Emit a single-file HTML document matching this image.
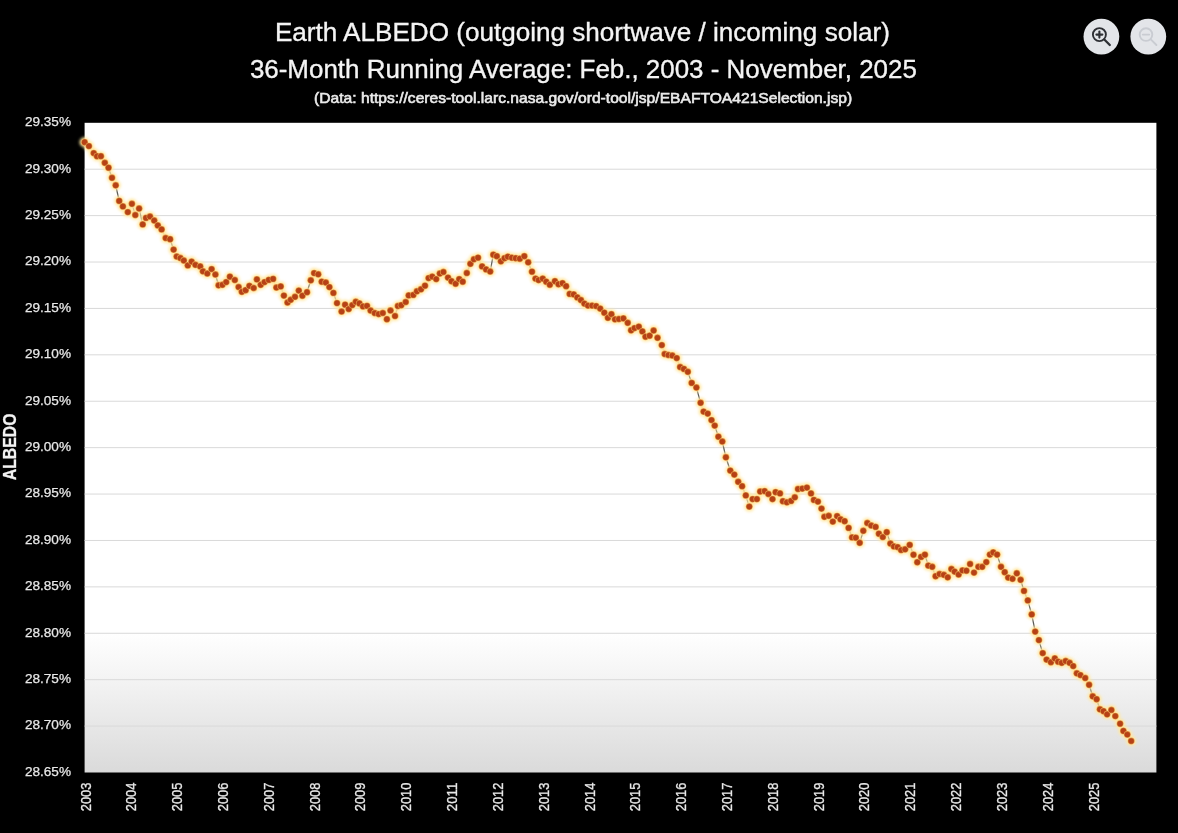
<!DOCTYPE html>
<html><head><meta charset="utf-8"><title>Earth ALBEDO</title>
<style>
html,body{margin:0;padding:0;background:#000;}
body{width:1178px;height:833px;overflow:hidden;}
svg{display:block;}
text{font-family:"Liberation Sans",Arial,sans-serif;}
</style></head><body>
<svg width="1178" height="833" viewBox="0 0 1178 833">
<defs>
<linearGradient id="bg" x1="0" y1="122.8" x2="0" y2="772.5" gradientUnits="userSpaceOnUse">
<stop offset="0" stop-color="#ffffff"/>
<stop offset="0.785" stop-color="#ffffff"/>
<stop offset="0.86" stop-color="#f3f3f3"/>
<stop offset="1" stop-color="#dadada"/>
</linearGradient>
<filter id="glow" x="-50%" y="-50%" width="200%" height="200%"><feGaussianBlur stdDeviation="1.4"/></filter>
<filter id="soft" x="-50%" y="-50%" width="200%" height="200%"><feGaussianBlur stdDeviation="0.5"/></filter>
</defs>
<rect x="0" y="0" width="1178" height="833" fill="#000"/>
<rect x="84.6" y="122.8" width="1071.8" height="649.7" fill="url(#bg)"/>

<line x1="84.6" y1="169.21" x2="1156.4" y2="169.21" stroke="#d9d9d9" stroke-width="1.0"/>
<line x1="84.6" y1="215.61" x2="1156.4" y2="215.61" stroke="#d9d9d9" stroke-width="1.0"/>
<line x1="84.6" y1="262.02" x2="1156.4" y2="262.02" stroke="#d9d9d9" stroke-width="1.0"/>
<line x1="84.6" y1="308.43" x2="1156.4" y2="308.43" stroke="#d9d9d9" stroke-width="1.0"/>
<line x1="84.6" y1="354.84" x2="1156.4" y2="354.84" stroke="#d9d9d9" stroke-width="1.0"/>
<line x1="84.6" y1="401.24" x2="1156.4" y2="401.24" stroke="#d9d9d9" stroke-width="1.0"/>
<line x1="84.6" y1="447.65" x2="1156.4" y2="447.65" stroke="#d9d9d9" stroke-width="1.0"/>
<line x1="84.6" y1="494.06" x2="1156.4" y2="494.06" stroke="#d9d9d9" stroke-width="1.0"/>
<line x1="84.6" y1="540.46" x2="1156.4" y2="540.46" stroke="#d9d9d9" stroke-width="1.0"/>
<line x1="84.6" y1="586.87" x2="1156.4" y2="586.87" stroke="#d9d9d9" stroke-width="1.0"/>
<line x1="84.6" y1="633.28" x2="1156.4" y2="633.28" stroke="#d9d9d9" stroke-width="1.0"/>
<line x1="84.6" y1="679.69" x2="1156.4" y2="679.69" stroke="#d9d9d9" stroke-width="1.0"/>
<line x1="84.6" y1="726.09" x2="1156.4" y2="726.09" stroke="#d9d9d9" stroke-width="1.0"/>
<text x="71" y="126.1" text-anchor="end" font-size="13.6" fill="#e8e8e8" stroke="#e8e8e8" stroke-width="0.25">29.35%</text>
<text x="71" y="172.5" text-anchor="end" font-size="13.6" fill="#e8e8e8" stroke="#e8e8e8" stroke-width="0.25">29.30%</text>
<text x="71" y="218.9" text-anchor="end" font-size="13.6" fill="#e8e8e8" stroke="#e8e8e8" stroke-width="0.25">29.25%</text>
<text x="71" y="265.3" text-anchor="end" font-size="13.6" fill="#e8e8e8" stroke="#e8e8e8" stroke-width="0.25">29.20%</text>
<text x="71" y="311.7" text-anchor="end" font-size="13.6" fill="#e8e8e8" stroke="#e8e8e8" stroke-width="0.25">29.15%</text>
<text x="71" y="358.1" text-anchor="end" font-size="13.6" fill="#e8e8e8" stroke="#e8e8e8" stroke-width="0.25">29.10%</text>
<text x="71" y="404.5" text-anchor="end" font-size="13.6" fill="#e8e8e8" stroke="#e8e8e8" stroke-width="0.25">29.05%</text>
<text x="71" y="451.0" text-anchor="end" font-size="13.6" fill="#e8e8e8" stroke="#e8e8e8" stroke-width="0.25">29.00%</text>
<text x="71" y="497.4" text-anchor="end" font-size="13.6" fill="#e8e8e8" stroke="#e8e8e8" stroke-width="0.25">28.95%</text>
<text x="71" y="543.8" text-anchor="end" font-size="13.6" fill="#e8e8e8" stroke="#e8e8e8" stroke-width="0.25">28.90%</text>
<text x="71" y="590.2" text-anchor="end" font-size="13.6" fill="#e8e8e8" stroke="#e8e8e8" stroke-width="0.25">28.85%</text>
<text x="71" y="636.6" text-anchor="end" font-size="13.6" fill="#e8e8e8" stroke="#e8e8e8" stroke-width="0.25">28.80%</text>
<text x="71" y="683.0" text-anchor="end" font-size="13.6" fill="#e8e8e8" stroke="#e8e8e8" stroke-width="0.25">28.75%</text>
<text x="71" y="729.4" text-anchor="end" font-size="13.6" fill="#e8e8e8" stroke="#e8e8e8" stroke-width="0.25">28.70%</text>
<text x="71" y="775.8" text-anchor="end" font-size="13.6" fill="#e8e8e8" stroke="#e8e8e8" stroke-width="0.25">28.65%</text>
<text transform="translate(90.5,811.2) rotate(-90)" font-size="14" fill="#e8e8e8" stroke="#e8e8e8" stroke-width="0.3" textLength="28.6" lengthAdjust="spacingAndGlyphs">2003</text>
<text transform="translate(136.3,811.2) rotate(-90)" font-size="14" fill="#e8e8e8" stroke="#e8e8e8" stroke-width="0.3" textLength="28.6" lengthAdjust="spacingAndGlyphs">2004</text>
<text transform="translate(182.1,811.2) rotate(-90)" font-size="14" fill="#e8e8e8" stroke="#e8e8e8" stroke-width="0.3" textLength="28.6" lengthAdjust="spacingAndGlyphs">2005</text>
<text transform="translate(228.0,811.2) rotate(-90)" font-size="14" fill="#e8e8e8" stroke="#e8e8e8" stroke-width="0.3" textLength="28.6" lengthAdjust="spacingAndGlyphs">2006</text>
<text transform="translate(273.8,811.2) rotate(-90)" font-size="14" fill="#e8e8e8" stroke="#e8e8e8" stroke-width="0.3" textLength="28.6" lengthAdjust="spacingAndGlyphs">2007</text>
<text transform="translate(319.6,811.2) rotate(-90)" font-size="14" fill="#e8e8e8" stroke="#e8e8e8" stroke-width="0.3" textLength="28.6" lengthAdjust="spacingAndGlyphs">2008</text>
<text transform="translate(365.4,811.2) rotate(-90)" font-size="14" fill="#e8e8e8" stroke="#e8e8e8" stroke-width="0.3" textLength="28.6" lengthAdjust="spacingAndGlyphs">2009</text>
<text transform="translate(411.2,811.2) rotate(-90)" font-size="14" fill="#e8e8e8" stroke="#e8e8e8" stroke-width="0.3" textLength="28.6" lengthAdjust="spacingAndGlyphs">2010</text>
<text transform="translate(457.1,811.2) rotate(-90)" font-size="14" fill="#e8e8e8" stroke="#e8e8e8" stroke-width="0.3" textLength="28.6" lengthAdjust="spacingAndGlyphs">2011</text>
<text transform="translate(502.9,811.2) rotate(-90)" font-size="14" fill="#e8e8e8" stroke="#e8e8e8" stroke-width="0.3" textLength="28.6" lengthAdjust="spacingAndGlyphs">2012</text>
<text transform="translate(548.7,811.2) rotate(-90)" font-size="14" fill="#e8e8e8" stroke="#e8e8e8" stroke-width="0.3" textLength="28.6" lengthAdjust="spacingAndGlyphs">2013</text>
<text transform="translate(594.5,811.2) rotate(-90)" font-size="14" fill="#e8e8e8" stroke="#e8e8e8" stroke-width="0.3" textLength="28.6" lengthAdjust="spacingAndGlyphs">2014</text>
<text transform="translate(640.3,811.2) rotate(-90)" font-size="14" fill="#e8e8e8" stroke="#e8e8e8" stroke-width="0.3" textLength="28.6" lengthAdjust="spacingAndGlyphs">2015</text>
<text transform="translate(686.2,811.2) rotate(-90)" font-size="14" fill="#e8e8e8" stroke="#e8e8e8" stroke-width="0.3" textLength="28.6" lengthAdjust="spacingAndGlyphs">2016</text>
<text transform="translate(732.0,811.2) rotate(-90)" font-size="14" fill="#e8e8e8" stroke="#e8e8e8" stroke-width="0.3" textLength="28.6" lengthAdjust="spacingAndGlyphs">2017</text>
<text transform="translate(777.8,811.2) rotate(-90)" font-size="14" fill="#e8e8e8" stroke="#e8e8e8" stroke-width="0.3" textLength="28.6" lengthAdjust="spacingAndGlyphs">2018</text>
<text transform="translate(823.6,811.2) rotate(-90)" font-size="14" fill="#e8e8e8" stroke="#e8e8e8" stroke-width="0.3" textLength="28.6" lengthAdjust="spacingAndGlyphs">2019</text>
<text transform="translate(869.4,811.2) rotate(-90)" font-size="14" fill="#e8e8e8" stroke="#e8e8e8" stroke-width="0.3" textLength="28.6" lengthAdjust="spacingAndGlyphs">2020</text>
<text transform="translate(915.3,811.2) rotate(-90)" font-size="14" fill="#e8e8e8" stroke="#e8e8e8" stroke-width="0.3" textLength="28.6" lengthAdjust="spacingAndGlyphs">2021</text>
<text transform="translate(961.1,811.2) rotate(-90)" font-size="14" fill="#e8e8e8" stroke="#e8e8e8" stroke-width="0.3" textLength="28.6" lengthAdjust="spacingAndGlyphs">2022</text>
<text transform="translate(1006.9,811.2) rotate(-90)" font-size="14" fill="#e8e8e8" stroke="#e8e8e8" stroke-width="0.3" textLength="28.6" lengthAdjust="spacingAndGlyphs">2023</text>
<text transform="translate(1052.7,811.2) rotate(-90)" font-size="14" fill="#e8e8e8" stroke="#e8e8e8" stroke-width="0.3" textLength="28.6" lengthAdjust="spacingAndGlyphs">2024</text>
<text transform="translate(1098.5,811.2) rotate(-90)" font-size="14" fill="#e8e8e8" stroke="#e8e8e8" stroke-width="0.3" textLength="28.6" lengthAdjust="spacingAndGlyphs">2025</text>
<text transform="translate(16.3,480.2) rotate(-90)" font-size="17.5" font-weight="bold" fill="#f2f2f2" stroke="#f2f2f2" stroke-width="0.25" textLength="66.6" lengthAdjust="spacingAndGlyphs">ALBEDO</text>
<text x="582.4" y="41.3" text-anchor="middle" font-size="25.8" fill="#f4f4f4" stroke="#f4f4f4" stroke-width="0.35" textLength="615" lengthAdjust="spacingAndGlyphs">Earth ALBEDO (outgoing shortwave / incoming solar)</text>
<text x="583.4" y="78.2" text-anchor="middle" font-size="25.8" fill="#f4f4f4" stroke="#f4f4f4" stroke-width="0.35" textLength="667" lengthAdjust="spacingAndGlyphs">36-Month Running Average: Feb., 2003 - November, 2025</text>
<text x="583.1" y="102.5" text-anchor="middle" font-size="14.6" fill="#eaeaea" stroke="#eaeaea" stroke-width="0.6" textLength="538" lengthAdjust="spacingAndGlyphs">(Data: https://ceres-tool.larc.nasa.gov/ord-tool/jsp/EBAFTOA421Selection.jsp)</text>
<circle cx="1101.4" cy="36.6" r="17.9" fill="#e3e5e9"/>
<circle cx="1148.3" cy="36.6" r="17.9" fill="#e3e5e9"/>
<g fill="none" stroke="#2e3035" stroke-linecap="round"><circle cx="1099.4" cy="34.6" r="6.5" stroke-width="1.9"/><line x1="1104.3" y1="39.5" x2="1109.8" y2="45" stroke-width="2.3"/><line x1="1096.4" y1="34.6" x2="1102.4" y2="34.6" stroke-width="2.1"/><line x1="1099.4" y1="31.6" x2="1099.4" y2="37.6" stroke-width="2.1"/></g>
<g fill="none" stroke="#c9ccd2" stroke-width="1.9" stroke-linecap="round"><circle cx="1146" cy="34.6" r="6.3"/><line x1="1150.8" y1="39.4" x2="1156.4" y2="45"/><line x1="1142.8" y1="34.6" x2="1149.2" y2="34.6"/></g>
<polyline points="84.6,142.2 88.9,146.1 93.7,153.1 97.0,156.2 100.9,156.2 104.8,162.8 108.5,167.7 112.0,177.8 115.7,185.3 119.2,200.9 122.9,206.4 127.8,212.1 131.9,203.8 135.3,215.0 139.1,208.5 142.7,224.4 146.0,217.9 150.0,216.5 154.2,220.5 157.8,225.4 161.6,229.4 165.7,238.0 170.1,239.2 173.6,249.6 176.7,256.5 180.3,258.0 183.8,260.5 187.8,265.4 191.6,261.6 195.4,264.8 200.2,266.4 202.9,271.3 207.3,273.5 211.6,269.1 215.4,274.5 218.6,285.3 222.4,284.8 226.2,282.1 229.9,276.7 234.8,280.0 238.6,287.0 241.8,291.8 245.6,290.2 249.4,285.9 253.7,288.0 256.9,279.4 260.7,284.8 264.5,282.1 268.8,279.9 273.1,278.9 276.4,287.5 280.7,286.4 283.9,295.6 287.5,302.5 290.7,299.8 295.0,296.8 298.8,290.6 302.4,295.7 307.0,292.2 310.8,280.3 314.1,273.1 318.2,274.3 321.7,281.7 325.8,282.5 329.4,287.1 333.4,292.9 337.0,303.1 341.6,311.5 345.1,304.7 348.7,309.0 352.3,305.1 355.8,301.8 359.4,303.4 363.0,306.4 367.0,305.9 370.6,310.5 374.7,313.0 378.7,314.1 382.8,313.0 386.9,319.2 390.5,310.5 395.0,316.0 397.9,306.0 401.2,305.2 405.7,302.0 408.7,295.4 413.3,294.9 416.9,291.3 421.0,289.3 425.0,285.7 428.6,278.1 432.2,276.6 436.2,279.1 439.8,273.5 443.4,272.0 448.0,277.6 451.5,281.2 455.6,283.7 459.2,279.1 462.7,281.7 466.8,273.0 470.4,263.8 473.9,259.3 478.0,257.7 482.1,266.4 486.1,269.4 490.2,271.5 493.3,254.7 496.8,256.2 500.9,261.3 504.5,258.2 507.8,256.7 511.9,257.7 515.7,258.2 519.8,258.7 524.3,256.2 528.2,262.3 532.0,271.7 535.5,278.6 538.6,280.1 542.7,278.6 546.2,281.7 549.8,284.7 554.9,281.2 558.5,284.2 562.5,283.2 566.1,286.2 569.7,293.9 573.7,294.4 577.3,297.4 580.9,300.0 584.4,303.6 588.0,305.6 592.1,305.6 596.1,306.1 600.2,308.6 604.3,312.7 607.9,317.8 611.4,314.2 615.0,319.3 618.9,319.0 623.4,318.4 627.7,322.8 631.1,330.3 634.5,328.1 638.8,326.7 642.4,331.4 645.5,336.7 649.6,335.7 653.6,330.5 657.5,337.8 661.8,345.1 664.7,354.0 668.3,355.0 672.3,355.5 676.7,358.1 680.1,367.0 683.9,368.9 687.8,371.8 691.7,382.9 696.4,387.5 700.6,402.8 703.6,411.6 707.7,413.6 711.5,420.1 714.7,425.6 718.4,436.7 722.3,441.5 725.9,457.3 730.3,470.6 734.3,474.6 738.2,481.8 742.1,486.2 745.8,495.4 749.3,506.6 752.6,499.1 756.9,499.1 760.2,491.5 764.6,491.1 768.4,494.0 772.5,499.1 775.6,492.2 780.0,493.4 782.9,501.2 786.9,502.3 791.1,500.9 794.8,497.3 798.0,489.0 802.3,488.6 806.9,487.6 811.0,493.4 813.9,499.9 817.9,501.6 821.5,508.6 824.4,516.8 828.7,515.8 832.8,521.6 837.1,516.1 840.5,519.3 844.6,521.2 848.6,527.9 852.1,537.4 855.8,537.7 859.7,542.8 863.3,530.8 867.3,523.0 871.2,525.5 875.6,526.9 878.9,533.7 882.8,537.0 886.7,532.2 890.4,543.5 893.9,546.4 897.6,547.1 901.1,550.0 905.1,549.3 909.7,544.9 913.5,554.7 917.3,562.2 921.1,556.9 924.9,554.7 928.3,565.6 932.2,566.8 935.6,576.2 939.5,574.0 943.8,574.8 947.7,577.3 951.4,569.0 954.6,571.6 958.6,574.5 962.5,570.4 966.4,570.7 970.1,564.0 974.0,572.6 978.4,566.8 982.2,566.8 986.3,562.1 989.9,554.6 993.2,552.4 997.1,554.6 1001.0,566.8 1004.7,572.2 1008.2,577.6 1012.5,578.8 1016.8,573.3 1020.6,579.8 1024.0,590.9 1027.8,600.4 1031.7,614.4 1035.2,631.6 1038.9,640.1 1042.7,653.1 1046.6,659.6 1050.9,662.2 1054.8,658.4 1058.1,661.7 1061.7,662.8 1065.7,661.0 1069.6,662.8 1073.2,666.1 1076.8,673.3 1080.4,675.1 1085.2,678.0 1089.1,684.8 1092.7,696.3 1096.6,699.2 1099.9,709.3 1103.5,711.2 1107.1,714.3 1111.4,710.0 1115.3,716.1 1120.1,723.7 1123.4,730.9 1127.3,734.5 1131.2,741.0" fill="none" stroke="#5a5a56" stroke-width="1.25"/>
<g fill="#ffe7a0" filter="url(#glow)"><circle cx="84.6" cy="142.2" r="5.0"/><circle cx="88.9" cy="146.1" r="5.0"/><circle cx="93.7" cy="153.1" r="5.0"/><circle cx="97.0" cy="156.2" r="5.0"/><circle cx="100.9" cy="156.2" r="5.0"/><circle cx="104.8" cy="162.8" r="5.0"/><circle cx="108.5" cy="167.7" r="5.0"/><circle cx="112.0" cy="177.8" r="5.0"/><circle cx="115.7" cy="185.3" r="5.0"/><circle cx="119.2" cy="200.9" r="5.0"/><circle cx="122.9" cy="206.4" r="5.0"/><circle cx="127.8" cy="212.1" r="5.0"/><circle cx="131.9" cy="203.8" r="5.0"/><circle cx="135.3" cy="215.0" r="5.0"/><circle cx="139.1" cy="208.5" r="5.0"/><circle cx="142.7" cy="224.4" r="5.0"/><circle cx="146.0" cy="217.9" r="5.0"/><circle cx="150.0" cy="216.5" r="5.0"/><circle cx="154.2" cy="220.5" r="5.0"/><circle cx="157.8" cy="225.4" r="5.0"/><circle cx="161.6" cy="229.4" r="5.0"/><circle cx="165.7" cy="238.0" r="5.0"/><circle cx="170.1" cy="239.2" r="5.0"/><circle cx="173.6" cy="249.6" r="5.0"/><circle cx="176.7" cy="256.5" r="5.0"/><circle cx="180.3" cy="258.0" r="5.0"/><circle cx="183.8" cy="260.5" r="5.0"/><circle cx="187.8" cy="265.4" r="5.0"/><circle cx="191.6" cy="261.6" r="5.0"/><circle cx="195.4" cy="264.8" r="5.0"/><circle cx="200.2" cy="266.4" r="5.0"/><circle cx="202.9" cy="271.3" r="5.0"/><circle cx="207.3" cy="273.5" r="5.0"/><circle cx="211.6" cy="269.1" r="5.0"/><circle cx="215.4" cy="274.5" r="5.0"/><circle cx="218.6" cy="285.3" r="5.0"/><circle cx="222.4" cy="284.8" r="5.0"/><circle cx="226.2" cy="282.1" r="5.0"/><circle cx="229.9" cy="276.7" r="5.0"/><circle cx="234.8" cy="280.0" r="5.0"/><circle cx="238.6" cy="287.0" r="5.0"/><circle cx="241.8" cy="291.8" r="5.0"/><circle cx="245.6" cy="290.2" r="5.0"/><circle cx="249.4" cy="285.9" r="5.0"/><circle cx="253.7" cy="288.0" r="5.0"/><circle cx="256.9" cy="279.4" r="5.0"/><circle cx="260.7" cy="284.8" r="5.0"/><circle cx="264.5" cy="282.1" r="5.0"/><circle cx="268.8" cy="279.9" r="5.0"/><circle cx="273.1" cy="278.9" r="5.0"/><circle cx="276.4" cy="287.5" r="5.0"/><circle cx="280.7" cy="286.4" r="5.0"/><circle cx="283.9" cy="295.6" r="5.0"/><circle cx="287.5" cy="302.5" r="5.0"/><circle cx="290.7" cy="299.8" r="5.0"/><circle cx="295.0" cy="296.8" r="5.0"/><circle cx="298.8" cy="290.6" r="5.0"/><circle cx="302.4" cy="295.7" r="5.0"/><circle cx="307.0" cy="292.2" r="5.0"/><circle cx="310.8" cy="280.3" r="5.0"/><circle cx="314.1" cy="273.1" r="5.0"/><circle cx="318.2" cy="274.3" r="5.0"/><circle cx="321.7" cy="281.7" r="5.0"/><circle cx="325.8" cy="282.5" r="5.0"/><circle cx="329.4" cy="287.1" r="5.0"/><circle cx="333.4" cy="292.9" r="5.0"/><circle cx="337.0" cy="303.1" r="5.0"/><circle cx="341.6" cy="311.5" r="5.0"/><circle cx="345.1" cy="304.7" r="5.0"/><circle cx="348.7" cy="309.0" r="5.0"/><circle cx="352.3" cy="305.1" r="5.0"/><circle cx="355.8" cy="301.8" r="5.0"/><circle cx="359.4" cy="303.4" r="5.0"/><circle cx="363.0" cy="306.4" r="5.0"/><circle cx="367.0" cy="305.9" r="5.0"/><circle cx="370.6" cy="310.5" r="5.0"/><circle cx="374.7" cy="313.0" r="5.0"/><circle cx="378.7" cy="314.1" r="5.0"/><circle cx="382.8" cy="313.0" r="5.0"/><circle cx="386.9" cy="319.2" r="5.0"/><circle cx="390.5" cy="310.5" r="5.0"/><circle cx="395.0" cy="316.0" r="5.0"/><circle cx="397.9" cy="306.0" r="5.0"/><circle cx="401.2" cy="305.2" r="5.0"/><circle cx="405.7" cy="302.0" r="5.0"/><circle cx="408.7" cy="295.4" r="5.0"/><circle cx="413.3" cy="294.9" r="5.0"/><circle cx="416.9" cy="291.3" r="5.0"/><circle cx="421.0" cy="289.3" r="5.0"/><circle cx="425.0" cy="285.7" r="5.0"/><circle cx="428.6" cy="278.1" r="5.0"/><circle cx="432.2" cy="276.6" r="5.0"/><circle cx="436.2" cy="279.1" r="5.0"/><circle cx="439.8" cy="273.5" r="5.0"/><circle cx="443.4" cy="272.0" r="5.0"/><circle cx="448.0" cy="277.6" r="5.0"/><circle cx="451.5" cy="281.2" r="5.0"/><circle cx="455.6" cy="283.7" r="5.0"/><circle cx="459.2" cy="279.1" r="5.0"/><circle cx="462.7" cy="281.7" r="5.0"/><circle cx="466.8" cy="273.0" r="5.0"/><circle cx="470.4" cy="263.8" r="5.0"/><circle cx="473.9" cy="259.3" r="5.0"/><circle cx="478.0" cy="257.7" r="5.0"/><circle cx="482.1" cy="266.4" r="5.0"/><circle cx="486.1" cy="269.4" r="5.0"/><circle cx="490.2" cy="271.5" r="5.0"/><circle cx="493.3" cy="254.7" r="5.0"/><circle cx="496.8" cy="256.2" r="5.0"/><circle cx="500.9" cy="261.3" r="5.0"/><circle cx="504.5" cy="258.2" r="5.0"/><circle cx="507.8" cy="256.7" r="5.0"/><circle cx="511.9" cy="257.7" r="5.0"/><circle cx="515.7" cy="258.2" r="5.0"/><circle cx="519.8" cy="258.7" r="5.0"/><circle cx="524.3" cy="256.2" r="5.0"/><circle cx="528.2" cy="262.3" r="5.0"/><circle cx="532.0" cy="271.7" r="5.0"/><circle cx="535.5" cy="278.6" r="5.0"/><circle cx="538.6" cy="280.1" r="5.0"/><circle cx="542.7" cy="278.6" r="5.0"/><circle cx="546.2" cy="281.7" r="5.0"/><circle cx="549.8" cy="284.7" r="5.0"/><circle cx="554.9" cy="281.2" r="5.0"/><circle cx="558.5" cy="284.2" r="5.0"/><circle cx="562.5" cy="283.2" r="5.0"/><circle cx="566.1" cy="286.2" r="5.0"/><circle cx="569.7" cy="293.9" r="5.0"/><circle cx="573.7" cy="294.4" r="5.0"/><circle cx="577.3" cy="297.4" r="5.0"/><circle cx="580.9" cy="300.0" r="5.0"/><circle cx="584.4" cy="303.6" r="5.0"/><circle cx="588.0" cy="305.6" r="5.0"/><circle cx="592.1" cy="305.6" r="5.0"/><circle cx="596.1" cy="306.1" r="5.0"/><circle cx="600.2" cy="308.6" r="5.0"/><circle cx="604.3" cy="312.7" r="5.0"/><circle cx="607.9" cy="317.8" r="5.0"/><circle cx="611.4" cy="314.2" r="5.0"/><circle cx="615.0" cy="319.3" r="5.0"/><circle cx="618.9" cy="319.0" r="5.0"/><circle cx="623.4" cy="318.4" r="5.0"/><circle cx="627.7" cy="322.8" r="5.0"/><circle cx="631.1" cy="330.3" r="5.0"/><circle cx="634.5" cy="328.1" r="5.0"/><circle cx="638.8" cy="326.7" r="5.0"/><circle cx="642.4" cy="331.4" r="5.0"/><circle cx="645.5" cy="336.7" r="5.0"/><circle cx="649.6" cy="335.7" r="5.0"/><circle cx="653.6" cy="330.5" r="5.0"/><circle cx="657.5" cy="337.8" r="5.0"/><circle cx="661.8" cy="345.1" r="5.0"/><circle cx="664.7" cy="354.0" r="5.0"/><circle cx="668.3" cy="355.0" r="5.0"/><circle cx="672.3" cy="355.5" r="5.0"/><circle cx="676.7" cy="358.1" r="5.0"/><circle cx="680.1" cy="367.0" r="5.0"/><circle cx="683.9" cy="368.9" r="5.0"/><circle cx="687.8" cy="371.8" r="5.0"/><circle cx="691.7" cy="382.9" r="5.0"/><circle cx="696.4" cy="387.5" r="5.0"/><circle cx="700.6" cy="402.8" r="5.0"/><circle cx="703.6" cy="411.6" r="5.0"/><circle cx="707.7" cy="413.6" r="5.0"/><circle cx="711.5" cy="420.1" r="5.0"/><circle cx="714.7" cy="425.6" r="5.0"/><circle cx="718.4" cy="436.7" r="5.0"/><circle cx="722.3" cy="441.5" r="5.0"/><circle cx="725.9" cy="457.3" r="5.0"/><circle cx="730.3" cy="470.6" r="5.0"/><circle cx="734.3" cy="474.6" r="5.0"/><circle cx="738.2" cy="481.8" r="5.0"/><circle cx="742.1" cy="486.2" r="5.0"/><circle cx="745.8" cy="495.4" r="5.0"/><circle cx="749.3" cy="506.6" r="5.0"/><circle cx="752.6" cy="499.1" r="5.0"/><circle cx="756.9" cy="499.1" r="5.0"/><circle cx="760.2" cy="491.5" r="5.0"/><circle cx="764.6" cy="491.1" r="5.0"/><circle cx="768.4" cy="494.0" r="5.0"/><circle cx="772.5" cy="499.1" r="5.0"/><circle cx="775.6" cy="492.2" r="5.0"/><circle cx="780.0" cy="493.4" r="5.0"/><circle cx="782.9" cy="501.2" r="5.0"/><circle cx="786.9" cy="502.3" r="5.0"/><circle cx="791.1" cy="500.9" r="5.0"/><circle cx="794.8" cy="497.3" r="5.0"/><circle cx="798.0" cy="489.0" r="5.0"/><circle cx="802.3" cy="488.6" r="5.0"/><circle cx="806.9" cy="487.6" r="5.0"/><circle cx="811.0" cy="493.4" r="5.0"/><circle cx="813.9" cy="499.9" r="5.0"/><circle cx="817.9" cy="501.6" r="5.0"/><circle cx="821.5" cy="508.6" r="5.0"/><circle cx="824.4" cy="516.8" r="5.0"/><circle cx="828.7" cy="515.8" r="5.0"/><circle cx="832.8" cy="521.6" r="5.0"/><circle cx="837.1" cy="516.1" r="5.0"/><circle cx="840.5" cy="519.3" r="5.0"/><circle cx="844.6" cy="521.2" r="5.0"/><circle cx="848.6" cy="527.9" r="5.0"/><circle cx="852.1" cy="537.4" r="5.0"/><circle cx="855.8" cy="537.7" r="5.0"/><circle cx="859.7" cy="542.8" r="5.0"/><circle cx="863.3" cy="530.8" r="5.0"/><circle cx="867.3" cy="523.0" r="5.0"/><circle cx="871.2" cy="525.5" r="5.0"/><circle cx="875.6" cy="526.9" r="5.0"/><circle cx="878.9" cy="533.7" r="5.0"/><circle cx="882.8" cy="537.0" r="5.0"/><circle cx="886.7" cy="532.2" r="5.0"/><circle cx="890.4" cy="543.5" r="5.0"/><circle cx="893.9" cy="546.4" r="5.0"/><circle cx="897.6" cy="547.1" r="5.0"/><circle cx="901.1" cy="550.0" r="5.0"/><circle cx="905.1" cy="549.3" r="5.0"/><circle cx="909.7" cy="544.9" r="5.0"/><circle cx="913.5" cy="554.7" r="5.0"/><circle cx="917.3" cy="562.2" r="5.0"/><circle cx="921.1" cy="556.9" r="5.0"/><circle cx="924.9" cy="554.7" r="5.0"/><circle cx="928.3" cy="565.6" r="5.0"/><circle cx="932.2" cy="566.8" r="5.0"/><circle cx="935.6" cy="576.2" r="5.0"/><circle cx="939.5" cy="574.0" r="5.0"/><circle cx="943.8" cy="574.8" r="5.0"/><circle cx="947.7" cy="577.3" r="5.0"/><circle cx="951.4" cy="569.0" r="5.0"/><circle cx="954.6" cy="571.6" r="5.0"/><circle cx="958.6" cy="574.5" r="5.0"/><circle cx="962.5" cy="570.4" r="5.0"/><circle cx="966.4" cy="570.7" r="5.0"/><circle cx="970.1" cy="564.0" r="5.0"/><circle cx="974.0" cy="572.6" r="5.0"/><circle cx="978.4" cy="566.8" r="5.0"/><circle cx="982.2" cy="566.8" r="5.0"/><circle cx="986.3" cy="562.1" r="5.0"/><circle cx="989.9" cy="554.6" r="5.0"/><circle cx="993.2" cy="552.4" r="5.0"/><circle cx="997.1" cy="554.6" r="5.0"/><circle cx="1001.0" cy="566.8" r="5.0"/><circle cx="1004.7" cy="572.2" r="5.0"/><circle cx="1008.2" cy="577.6" r="5.0"/><circle cx="1012.5" cy="578.8" r="5.0"/><circle cx="1016.8" cy="573.3" r="5.0"/><circle cx="1020.6" cy="579.8" r="5.0"/><circle cx="1024.0" cy="590.9" r="5.0"/><circle cx="1027.8" cy="600.4" r="5.0"/><circle cx="1031.7" cy="614.4" r="5.0"/><circle cx="1035.2" cy="631.6" r="5.0"/><circle cx="1038.9" cy="640.1" r="5.0"/><circle cx="1042.7" cy="653.1" r="5.0"/><circle cx="1046.6" cy="659.6" r="5.0"/><circle cx="1050.9" cy="662.2" r="5.0"/><circle cx="1054.8" cy="658.4" r="5.0"/><circle cx="1058.1" cy="661.7" r="5.0"/><circle cx="1061.7" cy="662.8" r="5.0"/><circle cx="1065.7" cy="661.0" r="5.0"/><circle cx="1069.6" cy="662.8" r="5.0"/><circle cx="1073.2" cy="666.1" r="5.0"/><circle cx="1076.8" cy="673.3" r="5.0"/><circle cx="1080.4" cy="675.1" r="5.0"/><circle cx="1085.2" cy="678.0" r="5.0"/><circle cx="1089.1" cy="684.8" r="5.0"/><circle cx="1092.7" cy="696.3" r="5.0"/><circle cx="1096.6" cy="699.2" r="5.0"/><circle cx="1099.9" cy="709.3" r="5.0"/><circle cx="1103.5" cy="711.2" r="5.0"/><circle cx="1107.1" cy="714.3" r="5.0"/><circle cx="1111.4" cy="710.0" r="5.0"/><circle cx="1115.3" cy="716.1" r="5.0"/><circle cx="1120.1" cy="723.7" r="5.0"/><circle cx="1123.4" cy="730.9" r="5.0"/><circle cx="1127.3" cy="734.5" r="5.0"/><circle cx="1131.2" cy="741.0" r="5.0"/></g>
<g><circle cx="84.6" cy="142.2" r="3.45" fill="#f0a050"/><circle cx="84.6" cy="142.2" r="2.6" fill="#b94016" stroke="#a84a16" stroke-width="0.6"/><circle cx="88.9" cy="146.1" r="3.45" fill="#f0a050"/><circle cx="88.9" cy="146.1" r="2.6" fill="#b94016" stroke="#a84a16" stroke-width="0.6"/><circle cx="93.7" cy="153.1" r="3.45" fill="#f0a050"/><circle cx="93.7" cy="153.1" r="2.6" fill="#b94016" stroke="#a84a16" stroke-width="0.6"/><circle cx="97.0" cy="156.2" r="3.45" fill="#f0a050"/><circle cx="97.0" cy="156.2" r="2.6" fill="#b94016" stroke="#a84a16" stroke-width="0.6"/><circle cx="100.9" cy="156.2" r="3.45" fill="#f0a050"/><circle cx="100.9" cy="156.2" r="2.6" fill="#b94016" stroke="#a84a16" stroke-width="0.6"/><circle cx="104.8" cy="162.8" r="3.45" fill="#f0a050"/><circle cx="104.8" cy="162.8" r="2.6" fill="#b94016" stroke="#a84a16" stroke-width="0.6"/><circle cx="108.5" cy="167.7" r="3.45" fill="#f0a050"/><circle cx="108.5" cy="167.7" r="2.6" fill="#b94016" stroke="#a84a16" stroke-width="0.6"/><circle cx="112.0" cy="177.8" r="3.45" fill="#f0a050"/><circle cx="112.0" cy="177.8" r="2.6" fill="#b94016" stroke="#a84a16" stroke-width="0.6"/><circle cx="115.7" cy="185.3" r="3.45" fill="#f0a050"/><circle cx="115.7" cy="185.3" r="2.6" fill="#b94016" stroke="#a84a16" stroke-width="0.6"/><circle cx="119.2" cy="200.9" r="3.45" fill="#f0a050"/><circle cx="119.2" cy="200.9" r="2.6" fill="#b94016" stroke="#a84a16" stroke-width="0.6"/><circle cx="122.9" cy="206.4" r="3.45" fill="#f0a050"/><circle cx="122.9" cy="206.4" r="2.6" fill="#b94016" stroke="#a84a16" stroke-width="0.6"/><circle cx="127.8" cy="212.1" r="3.45" fill="#f0a050"/><circle cx="127.8" cy="212.1" r="2.6" fill="#b94016" stroke="#a84a16" stroke-width="0.6"/><circle cx="131.9" cy="203.8" r="3.45" fill="#f0a050"/><circle cx="131.9" cy="203.8" r="2.6" fill="#b94016" stroke="#a84a16" stroke-width="0.6"/><circle cx="135.3" cy="215.0" r="3.45" fill="#f0a050"/><circle cx="135.3" cy="215.0" r="2.6" fill="#b94016" stroke="#a84a16" stroke-width="0.6"/><circle cx="139.1" cy="208.5" r="3.45" fill="#f0a050"/><circle cx="139.1" cy="208.5" r="2.6" fill="#b94016" stroke="#a84a16" stroke-width="0.6"/><circle cx="142.7" cy="224.4" r="3.45" fill="#f0a050"/><circle cx="142.7" cy="224.4" r="2.6" fill="#b94016" stroke="#a84a16" stroke-width="0.6"/><circle cx="146.0" cy="217.9" r="3.45" fill="#f0a050"/><circle cx="146.0" cy="217.9" r="2.6" fill="#b94016" stroke="#a84a16" stroke-width="0.6"/><circle cx="150.0" cy="216.5" r="3.45" fill="#f0a050"/><circle cx="150.0" cy="216.5" r="2.6" fill="#b94016" stroke="#a84a16" stroke-width="0.6"/><circle cx="154.2" cy="220.5" r="3.45" fill="#f0a050"/><circle cx="154.2" cy="220.5" r="2.6" fill="#b94016" stroke="#a84a16" stroke-width="0.6"/><circle cx="157.8" cy="225.4" r="3.45" fill="#f0a050"/><circle cx="157.8" cy="225.4" r="2.6" fill="#b94016" stroke="#a84a16" stroke-width="0.6"/><circle cx="161.6" cy="229.4" r="3.45" fill="#f0a050"/><circle cx="161.6" cy="229.4" r="2.6" fill="#b94016" stroke="#a84a16" stroke-width="0.6"/><circle cx="165.7" cy="238.0" r="3.45" fill="#f0a050"/><circle cx="165.7" cy="238.0" r="2.6" fill="#b94016" stroke="#a84a16" stroke-width="0.6"/><circle cx="170.1" cy="239.2" r="3.45" fill="#f0a050"/><circle cx="170.1" cy="239.2" r="2.6" fill="#b94016" stroke="#a84a16" stroke-width="0.6"/><circle cx="173.6" cy="249.6" r="3.45" fill="#f0a050"/><circle cx="173.6" cy="249.6" r="2.6" fill="#b94016" stroke="#a84a16" stroke-width="0.6"/><circle cx="176.7" cy="256.5" r="3.45" fill="#f0a050"/><circle cx="176.7" cy="256.5" r="2.6" fill="#b94016" stroke="#a84a16" stroke-width="0.6"/><circle cx="180.3" cy="258.0" r="3.45" fill="#f0a050"/><circle cx="180.3" cy="258.0" r="2.6" fill="#b94016" stroke="#a84a16" stroke-width="0.6"/><circle cx="183.8" cy="260.5" r="3.45" fill="#f0a050"/><circle cx="183.8" cy="260.5" r="2.6" fill="#b94016" stroke="#a84a16" stroke-width="0.6"/><circle cx="187.8" cy="265.4" r="3.45" fill="#f0a050"/><circle cx="187.8" cy="265.4" r="2.6" fill="#b94016" stroke="#a84a16" stroke-width="0.6"/><circle cx="191.6" cy="261.6" r="3.45" fill="#f0a050"/><circle cx="191.6" cy="261.6" r="2.6" fill="#b94016" stroke="#a84a16" stroke-width="0.6"/><circle cx="195.4" cy="264.8" r="3.45" fill="#f0a050"/><circle cx="195.4" cy="264.8" r="2.6" fill="#b94016" stroke="#a84a16" stroke-width="0.6"/><circle cx="200.2" cy="266.4" r="3.45" fill="#f0a050"/><circle cx="200.2" cy="266.4" r="2.6" fill="#b94016" stroke="#a84a16" stroke-width="0.6"/><circle cx="202.9" cy="271.3" r="3.45" fill="#f0a050"/><circle cx="202.9" cy="271.3" r="2.6" fill="#b94016" stroke="#a84a16" stroke-width="0.6"/><circle cx="207.3" cy="273.5" r="3.45" fill="#f0a050"/><circle cx="207.3" cy="273.5" r="2.6" fill="#b94016" stroke="#a84a16" stroke-width="0.6"/><circle cx="211.6" cy="269.1" r="3.45" fill="#f0a050"/><circle cx="211.6" cy="269.1" r="2.6" fill="#b94016" stroke="#a84a16" stroke-width="0.6"/><circle cx="215.4" cy="274.5" r="3.45" fill="#f0a050"/><circle cx="215.4" cy="274.5" r="2.6" fill="#b94016" stroke="#a84a16" stroke-width="0.6"/><circle cx="218.6" cy="285.3" r="3.45" fill="#f0a050"/><circle cx="218.6" cy="285.3" r="2.6" fill="#b94016" stroke="#a84a16" stroke-width="0.6"/><circle cx="222.4" cy="284.8" r="3.45" fill="#f0a050"/><circle cx="222.4" cy="284.8" r="2.6" fill="#b94016" stroke="#a84a16" stroke-width="0.6"/><circle cx="226.2" cy="282.1" r="3.45" fill="#f0a050"/><circle cx="226.2" cy="282.1" r="2.6" fill="#b94016" stroke="#a84a16" stroke-width="0.6"/><circle cx="229.9" cy="276.7" r="3.45" fill="#f0a050"/><circle cx="229.9" cy="276.7" r="2.6" fill="#b94016" stroke="#a84a16" stroke-width="0.6"/><circle cx="234.8" cy="280.0" r="3.45" fill="#f0a050"/><circle cx="234.8" cy="280.0" r="2.6" fill="#b94016" stroke="#a84a16" stroke-width="0.6"/><circle cx="238.6" cy="287.0" r="3.45" fill="#f0a050"/><circle cx="238.6" cy="287.0" r="2.6" fill="#b94016" stroke="#a84a16" stroke-width="0.6"/><circle cx="241.8" cy="291.8" r="3.45" fill="#f0a050"/><circle cx="241.8" cy="291.8" r="2.6" fill="#b94016" stroke="#a84a16" stroke-width="0.6"/><circle cx="245.6" cy="290.2" r="3.45" fill="#f0a050"/><circle cx="245.6" cy="290.2" r="2.6" fill="#b94016" stroke="#a84a16" stroke-width="0.6"/><circle cx="249.4" cy="285.9" r="3.45" fill="#f0a050"/><circle cx="249.4" cy="285.9" r="2.6" fill="#b94016" stroke="#a84a16" stroke-width="0.6"/><circle cx="253.7" cy="288.0" r="3.45" fill="#f0a050"/><circle cx="253.7" cy="288.0" r="2.6" fill="#b94016" stroke="#a84a16" stroke-width="0.6"/><circle cx="256.9" cy="279.4" r="3.45" fill="#f0a050"/><circle cx="256.9" cy="279.4" r="2.6" fill="#b94016" stroke="#a84a16" stroke-width="0.6"/><circle cx="260.7" cy="284.8" r="3.45" fill="#f0a050"/><circle cx="260.7" cy="284.8" r="2.6" fill="#b94016" stroke="#a84a16" stroke-width="0.6"/><circle cx="264.5" cy="282.1" r="3.45" fill="#f0a050"/><circle cx="264.5" cy="282.1" r="2.6" fill="#b94016" stroke="#a84a16" stroke-width="0.6"/><circle cx="268.8" cy="279.9" r="3.45" fill="#f0a050"/><circle cx="268.8" cy="279.9" r="2.6" fill="#b94016" stroke="#a84a16" stroke-width="0.6"/><circle cx="273.1" cy="278.9" r="3.45" fill="#f0a050"/><circle cx="273.1" cy="278.9" r="2.6" fill="#b94016" stroke="#a84a16" stroke-width="0.6"/><circle cx="276.4" cy="287.5" r="3.45" fill="#f0a050"/><circle cx="276.4" cy="287.5" r="2.6" fill="#b94016" stroke="#a84a16" stroke-width="0.6"/><circle cx="280.7" cy="286.4" r="3.45" fill="#f0a050"/><circle cx="280.7" cy="286.4" r="2.6" fill="#b94016" stroke="#a84a16" stroke-width="0.6"/><circle cx="283.9" cy="295.6" r="3.45" fill="#f0a050"/><circle cx="283.9" cy="295.6" r="2.6" fill="#b94016" stroke="#a84a16" stroke-width="0.6"/><circle cx="287.5" cy="302.5" r="3.45" fill="#f0a050"/><circle cx="287.5" cy="302.5" r="2.6" fill="#b94016" stroke="#a84a16" stroke-width="0.6"/><circle cx="290.7" cy="299.8" r="3.45" fill="#f0a050"/><circle cx="290.7" cy="299.8" r="2.6" fill="#b94016" stroke="#a84a16" stroke-width="0.6"/><circle cx="295.0" cy="296.8" r="3.45" fill="#f0a050"/><circle cx="295.0" cy="296.8" r="2.6" fill="#b94016" stroke="#a84a16" stroke-width="0.6"/><circle cx="298.8" cy="290.6" r="3.45" fill="#f0a050"/><circle cx="298.8" cy="290.6" r="2.6" fill="#b94016" stroke="#a84a16" stroke-width="0.6"/><circle cx="302.4" cy="295.7" r="3.45" fill="#f0a050"/><circle cx="302.4" cy="295.7" r="2.6" fill="#b94016" stroke="#a84a16" stroke-width="0.6"/><circle cx="307.0" cy="292.2" r="3.45" fill="#f0a050"/><circle cx="307.0" cy="292.2" r="2.6" fill="#b94016" stroke="#a84a16" stroke-width="0.6"/><circle cx="310.8" cy="280.3" r="3.45" fill="#f0a050"/><circle cx="310.8" cy="280.3" r="2.6" fill="#b94016" stroke="#a84a16" stroke-width="0.6"/><circle cx="314.1" cy="273.1" r="3.45" fill="#f0a050"/><circle cx="314.1" cy="273.1" r="2.6" fill="#b94016" stroke="#a84a16" stroke-width="0.6"/><circle cx="318.2" cy="274.3" r="3.45" fill="#f0a050"/><circle cx="318.2" cy="274.3" r="2.6" fill="#b94016" stroke="#a84a16" stroke-width="0.6"/><circle cx="321.7" cy="281.7" r="3.45" fill="#f0a050"/><circle cx="321.7" cy="281.7" r="2.6" fill="#b94016" stroke="#a84a16" stroke-width="0.6"/><circle cx="325.8" cy="282.5" r="3.45" fill="#f0a050"/><circle cx="325.8" cy="282.5" r="2.6" fill="#b94016" stroke="#a84a16" stroke-width="0.6"/><circle cx="329.4" cy="287.1" r="3.45" fill="#f0a050"/><circle cx="329.4" cy="287.1" r="2.6" fill="#b94016" stroke="#a84a16" stroke-width="0.6"/><circle cx="333.4" cy="292.9" r="3.45" fill="#f0a050"/><circle cx="333.4" cy="292.9" r="2.6" fill="#b94016" stroke="#a84a16" stroke-width="0.6"/><circle cx="337.0" cy="303.1" r="3.45" fill="#f0a050"/><circle cx="337.0" cy="303.1" r="2.6" fill="#b94016" stroke="#a84a16" stroke-width="0.6"/><circle cx="341.6" cy="311.5" r="3.45" fill="#f0a050"/><circle cx="341.6" cy="311.5" r="2.6" fill="#b94016" stroke="#a84a16" stroke-width="0.6"/><circle cx="345.1" cy="304.7" r="3.45" fill="#f0a050"/><circle cx="345.1" cy="304.7" r="2.6" fill="#b94016" stroke="#a84a16" stroke-width="0.6"/><circle cx="348.7" cy="309.0" r="3.45" fill="#f0a050"/><circle cx="348.7" cy="309.0" r="2.6" fill="#b94016" stroke="#a84a16" stroke-width="0.6"/><circle cx="352.3" cy="305.1" r="3.45" fill="#f0a050"/><circle cx="352.3" cy="305.1" r="2.6" fill="#b94016" stroke="#a84a16" stroke-width="0.6"/><circle cx="355.8" cy="301.8" r="3.45" fill="#f0a050"/><circle cx="355.8" cy="301.8" r="2.6" fill="#b94016" stroke="#a84a16" stroke-width="0.6"/><circle cx="359.4" cy="303.4" r="3.45" fill="#f0a050"/><circle cx="359.4" cy="303.4" r="2.6" fill="#b94016" stroke="#a84a16" stroke-width="0.6"/><circle cx="363.0" cy="306.4" r="3.45" fill="#f0a050"/><circle cx="363.0" cy="306.4" r="2.6" fill="#b94016" stroke="#a84a16" stroke-width="0.6"/><circle cx="367.0" cy="305.9" r="3.45" fill="#f0a050"/><circle cx="367.0" cy="305.9" r="2.6" fill="#b94016" stroke="#a84a16" stroke-width="0.6"/><circle cx="370.6" cy="310.5" r="3.45" fill="#f0a050"/><circle cx="370.6" cy="310.5" r="2.6" fill="#b94016" stroke="#a84a16" stroke-width="0.6"/><circle cx="374.7" cy="313.0" r="3.45" fill="#f0a050"/><circle cx="374.7" cy="313.0" r="2.6" fill="#b94016" stroke="#a84a16" stroke-width="0.6"/><circle cx="378.7" cy="314.1" r="3.45" fill="#f0a050"/><circle cx="378.7" cy="314.1" r="2.6" fill="#b94016" stroke="#a84a16" stroke-width="0.6"/><circle cx="382.8" cy="313.0" r="3.45" fill="#f0a050"/><circle cx="382.8" cy="313.0" r="2.6" fill="#b94016" stroke="#a84a16" stroke-width="0.6"/><circle cx="386.9" cy="319.2" r="3.45" fill="#f0a050"/><circle cx="386.9" cy="319.2" r="2.6" fill="#b94016" stroke="#a84a16" stroke-width="0.6"/><circle cx="390.5" cy="310.5" r="3.45" fill="#f0a050"/><circle cx="390.5" cy="310.5" r="2.6" fill="#b94016" stroke="#a84a16" stroke-width="0.6"/><circle cx="395.0" cy="316.0" r="3.45" fill="#f0a050"/><circle cx="395.0" cy="316.0" r="2.6" fill="#b94016" stroke="#a84a16" stroke-width="0.6"/><circle cx="397.9" cy="306.0" r="3.45" fill="#f0a050"/><circle cx="397.9" cy="306.0" r="2.6" fill="#b94016" stroke="#a84a16" stroke-width="0.6"/><circle cx="401.2" cy="305.2" r="3.45" fill="#f0a050"/><circle cx="401.2" cy="305.2" r="2.6" fill="#b94016" stroke="#a84a16" stroke-width="0.6"/><circle cx="405.7" cy="302.0" r="3.45" fill="#f0a050"/><circle cx="405.7" cy="302.0" r="2.6" fill="#b94016" stroke="#a84a16" stroke-width="0.6"/><circle cx="408.7" cy="295.4" r="3.45" fill="#f0a050"/><circle cx="408.7" cy="295.4" r="2.6" fill="#b94016" stroke="#a84a16" stroke-width="0.6"/><circle cx="413.3" cy="294.9" r="3.45" fill="#f0a050"/><circle cx="413.3" cy="294.9" r="2.6" fill="#b94016" stroke="#a84a16" stroke-width="0.6"/><circle cx="416.9" cy="291.3" r="3.45" fill="#f0a050"/><circle cx="416.9" cy="291.3" r="2.6" fill="#b94016" stroke="#a84a16" stroke-width="0.6"/><circle cx="421.0" cy="289.3" r="3.45" fill="#f0a050"/><circle cx="421.0" cy="289.3" r="2.6" fill="#b94016" stroke="#a84a16" stroke-width="0.6"/><circle cx="425.0" cy="285.7" r="3.45" fill="#f0a050"/><circle cx="425.0" cy="285.7" r="2.6" fill="#b94016" stroke="#a84a16" stroke-width="0.6"/><circle cx="428.6" cy="278.1" r="3.45" fill="#f0a050"/><circle cx="428.6" cy="278.1" r="2.6" fill="#b94016" stroke="#a84a16" stroke-width="0.6"/><circle cx="432.2" cy="276.6" r="3.45" fill="#f0a050"/><circle cx="432.2" cy="276.6" r="2.6" fill="#b94016" stroke="#a84a16" stroke-width="0.6"/><circle cx="436.2" cy="279.1" r="3.45" fill="#f0a050"/><circle cx="436.2" cy="279.1" r="2.6" fill="#b94016" stroke="#a84a16" stroke-width="0.6"/><circle cx="439.8" cy="273.5" r="3.45" fill="#f0a050"/><circle cx="439.8" cy="273.5" r="2.6" fill="#b94016" stroke="#a84a16" stroke-width="0.6"/><circle cx="443.4" cy="272.0" r="3.45" fill="#f0a050"/><circle cx="443.4" cy="272.0" r="2.6" fill="#b94016" stroke="#a84a16" stroke-width="0.6"/><circle cx="448.0" cy="277.6" r="3.45" fill="#f0a050"/><circle cx="448.0" cy="277.6" r="2.6" fill="#b94016" stroke="#a84a16" stroke-width="0.6"/><circle cx="451.5" cy="281.2" r="3.45" fill="#f0a050"/><circle cx="451.5" cy="281.2" r="2.6" fill="#b94016" stroke="#a84a16" stroke-width="0.6"/><circle cx="455.6" cy="283.7" r="3.45" fill="#f0a050"/><circle cx="455.6" cy="283.7" r="2.6" fill="#b94016" stroke="#a84a16" stroke-width="0.6"/><circle cx="459.2" cy="279.1" r="3.45" fill="#f0a050"/><circle cx="459.2" cy="279.1" r="2.6" fill="#b94016" stroke="#a84a16" stroke-width="0.6"/><circle cx="462.7" cy="281.7" r="3.45" fill="#f0a050"/><circle cx="462.7" cy="281.7" r="2.6" fill="#b94016" stroke="#a84a16" stroke-width="0.6"/><circle cx="466.8" cy="273.0" r="3.45" fill="#f0a050"/><circle cx="466.8" cy="273.0" r="2.6" fill="#b94016" stroke="#a84a16" stroke-width="0.6"/><circle cx="470.4" cy="263.8" r="3.45" fill="#f0a050"/><circle cx="470.4" cy="263.8" r="2.6" fill="#b94016" stroke="#a84a16" stroke-width="0.6"/><circle cx="473.9" cy="259.3" r="3.45" fill="#f0a050"/><circle cx="473.9" cy="259.3" r="2.6" fill="#b94016" stroke="#a84a16" stroke-width="0.6"/><circle cx="478.0" cy="257.7" r="3.45" fill="#f0a050"/><circle cx="478.0" cy="257.7" r="2.6" fill="#b94016" stroke="#a84a16" stroke-width="0.6"/><circle cx="482.1" cy="266.4" r="3.45" fill="#f0a050"/><circle cx="482.1" cy="266.4" r="2.6" fill="#b94016" stroke="#a84a16" stroke-width="0.6"/><circle cx="486.1" cy="269.4" r="3.45" fill="#f0a050"/><circle cx="486.1" cy="269.4" r="2.6" fill="#b94016" stroke="#a84a16" stroke-width="0.6"/><circle cx="490.2" cy="271.5" r="3.45" fill="#f0a050"/><circle cx="490.2" cy="271.5" r="2.6" fill="#b94016" stroke="#a84a16" stroke-width="0.6"/><circle cx="493.3" cy="254.7" r="3.45" fill="#f0a050"/><circle cx="493.3" cy="254.7" r="2.6" fill="#b94016" stroke="#a84a16" stroke-width="0.6"/><circle cx="496.8" cy="256.2" r="3.45" fill="#f0a050"/><circle cx="496.8" cy="256.2" r="2.6" fill="#b94016" stroke="#a84a16" stroke-width="0.6"/><circle cx="500.9" cy="261.3" r="3.45" fill="#f0a050"/><circle cx="500.9" cy="261.3" r="2.6" fill="#b94016" stroke="#a84a16" stroke-width="0.6"/><circle cx="504.5" cy="258.2" r="3.45" fill="#f0a050"/><circle cx="504.5" cy="258.2" r="2.6" fill="#b94016" stroke="#a84a16" stroke-width="0.6"/><circle cx="507.8" cy="256.7" r="3.45" fill="#f0a050"/><circle cx="507.8" cy="256.7" r="2.6" fill="#b94016" stroke="#a84a16" stroke-width="0.6"/><circle cx="511.9" cy="257.7" r="3.45" fill="#f0a050"/><circle cx="511.9" cy="257.7" r="2.6" fill="#b94016" stroke="#a84a16" stroke-width="0.6"/><circle cx="515.7" cy="258.2" r="3.45" fill="#f0a050"/><circle cx="515.7" cy="258.2" r="2.6" fill="#b94016" stroke="#a84a16" stroke-width="0.6"/><circle cx="519.8" cy="258.7" r="3.45" fill="#f0a050"/><circle cx="519.8" cy="258.7" r="2.6" fill="#b94016" stroke="#a84a16" stroke-width="0.6"/><circle cx="524.3" cy="256.2" r="3.45" fill="#f0a050"/><circle cx="524.3" cy="256.2" r="2.6" fill="#b94016" stroke="#a84a16" stroke-width="0.6"/><circle cx="528.2" cy="262.3" r="3.45" fill="#f0a050"/><circle cx="528.2" cy="262.3" r="2.6" fill="#b94016" stroke="#a84a16" stroke-width="0.6"/><circle cx="532.0" cy="271.7" r="3.45" fill="#f0a050"/><circle cx="532.0" cy="271.7" r="2.6" fill="#b94016" stroke="#a84a16" stroke-width="0.6"/><circle cx="535.5" cy="278.6" r="3.45" fill="#f0a050"/><circle cx="535.5" cy="278.6" r="2.6" fill="#b94016" stroke="#a84a16" stroke-width="0.6"/><circle cx="538.6" cy="280.1" r="3.45" fill="#f0a050"/><circle cx="538.6" cy="280.1" r="2.6" fill="#b94016" stroke="#a84a16" stroke-width="0.6"/><circle cx="542.7" cy="278.6" r="3.45" fill="#f0a050"/><circle cx="542.7" cy="278.6" r="2.6" fill="#b94016" stroke="#a84a16" stroke-width="0.6"/><circle cx="546.2" cy="281.7" r="3.45" fill="#f0a050"/><circle cx="546.2" cy="281.7" r="2.6" fill="#b94016" stroke="#a84a16" stroke-width="0.6"/><circle cx="549.8" cy="284.7" r="3.45" fill="#f0a050"/><circle cx="549.8" cy="284.7" r="2.6" fill="#b94016" stroke="#a84a16" stroke-width="0.6"/><circle cx="554.9" cy="281.2" r="3.45" fill="#f0a050"/><circle cx="554.9" cy="281.2" r="2.6" fill="#b94016" stroke="#a84a16" stroke-width="0.6"/><circle cx="558.5" cy="284.2" r="3.45" fill="#f0a050"/><circle cx="558.5" cy="284.2" r="2.6" fill="#b94016" stroke="#a84a16" stroke-width="0.6"/><circle cx="562.5" cy="283.2" r="3.45" fill="#f0a050"/><circle cx="562.5" cy="283.2" r="2.6" fill="#b94016" stroke="#a84a16" stroke-width="0.6"/><circle cx="566.1" cy="286.2" r="3.45" fill="#f0a050"/><circle cx="566.1" cy="286.2" r="2.6" fill="#b94016" stroke="#a84a16" stroke-width="0.6"/><circle cx="569.7" cy="293.9" r="3.45" fill="#f0a050"/><circle cx="569.7" cy="293.9" r="2.6" fill="#b94016" stroke="#a84a16" stroke-width="0.6"/><circle cx="573.7" cy="294.4" r="3.45" fill="#f0a050"/><circle cx="573.7" cy="294.4" r="2.6" fill="#b94016" stroke="#a84a16" stroke-width="0.6"/><circle cx="577.3" cy="297.4" r="3.45" fill="#f0a050"/><circle cx="577.3" cy="297.4" r="2.6" fill="#b94016" stroke="#a84a16" stroke-width="0.6"/><circle cx="580.9" cy="300.0" r="3.45" fill="#f0a050"/><circle cx="580.9" cy="300.0" r="2.6" fill="#b94016" stroke="#a84a16" stroke-width="0.6"/><circle cx="584.4" cy="303.6" r="3.45" fill="#f0a050"/><circle cx="584.4" cy="303.6" r="2.6" fill="#b94016" stroke="#a84a16" stroke-width="0.6"/><circle cx="588.0" cy="305.6" r="3.45" fill="#f0a050"/><circle cx="588.0" cy="305.6" r="2.6" fill="#b94016" stroke="#a84a16" stroke-width="0.6"/><circle cx="592.1" cy="305.6" r="3.45" fill="#f0a050"/><circle cx="592.1" cy="305.6" r="2.6" fill="#b94016" stroke="#a84a16" stroke-width="0.6"/><circle cx="596.1" cy="306.1" r="3.45" fill="#f0a050"/><circle cx="596.1" cy="306.1" r="2.6" fill="#b94016" stroke="#a84a16" stroke-width="0.6"/><circle cx="600.2" cy="308.6" r="3.45" fill="#f0a050"/><circle cx="600.2" cy="308.6" r="2.6" fill="#b94016" stroke="#a84a16" stroke-width="0.6"/><circle cx="604.3" cy="312.7" r="3.45" fill="#f0a050"/><circle cx="604.3" cy="312.7" r="2.6" fill="#b94016" stroke="#a84a16" stroke-width="0.6"/><circle cx="607.9" cy="317.8" r="3.45" fill="#f0a050"/><circle cx="607.9" cy="317.8" r="2.6" fill="#b94016" stroke="#a84a16" stroke-width="0.6"/><circle cx="611.4" cy="314.2" r="3.45" fill="#f0a050"/><circle cx="611.4" cy="314.2" r="2.6" fill="#b94016" stroke="#a84a16" stroke-width="0.6"/><circle cx="615.0" cy="319.3" r="3.45" fill="#f0a050"/><circle cx="615.0" cy="319.3" r="2.6" fill="#b94016" stroke="#a84a16" stroke-width="0.6"/><circle cx="618.9" cy="319.0" r="3.45" fill="#f0a050"/><circle cx="618.9" cy="319.0" r="2.6" fill="#b94016" stroke="#a84a16" stroke-width="0.6"/><circle cx="623.4" cy="318.4" r="3.45" fill="#f0a050"/><circle cx="623.4" cy="318.4" r="2.6" fill="#b94016" stroke="#a84a16" stroke-width="0.6"/><circle cx="627.7" cy="322.8" r="3.45" fill="#f0a050"/><circle cx="627.7" cy="322.8" r="2.6" fill="#b94016" stroke="#a84a16" stroke-width="0.6"/><circle cx="631.1" cy="330.3" r="3.45" fill="#f0a050"/><circle cx="631.1" cy="330.3" r="2.6" fill="#b94016" stroke="#a84a16" stroke-width="0.6"/><circle cx="634.5" cy="328.1" r="3.45" fill="#f0a050"/><circle cx="634.5" cy="328.1" r="2.6" fill="#b94016" stroke="#a84a16" stroke-width="0.6"/><circle cx="638.8" cy="326.7" r="3.45" fill="#f0a050"/><circle cx="638.8" cy="326.7" r="2.6" fill="#b94016" stroke="#a84a16" stroke-width="0.6"/><circle cx="642.4" cy="331.4" r="3.45" fill="#f0a050"/><circle cx="642.4" cy="331.4" r="2.6" fill="#b94016" stroke="#a84a16" stroke-width="0.6"/><circle cx="645.5" cy="336.7" r="3.45" fill="#f0a050"/><circle cx="645.5" cy="336.7" r="2.6" fill="#b94016" stroke="#a84a16" stroke-width="0.6"/><circle cx="649.6" cy="335.7" r="3.45" fill="#f0a050"/><circle cx="649.6" cy="335.7" r="2.6" fill="#b94016" stroke="#a84a16" stroke-width="0.6"/><circle cx="653.6" cy="330.5" r="3.45" fill="#f0a050"/><circle cx="653.6" cy="330.5" r="2.6" fill="#b94016" stroke="#a84a16" stroke-width="0.6"/><circle cx="657.5" cy="337.8" r="3.45" fill="#f0a050"/><circle cx="657.5" cy="337.8" r="2.6" fill="#b94016" stroke="#a84a16" stroke-width="0.6"/><circle cx="661.8" cy="345.1" r="3.45" fill="#f0a050"/><circle cx="661.8" cy="345.1" r="2.6" fill="#b94016" stroke="#a84a16" stroke-width="0.6"/><circle cx="664.7" cy="354.0" r="3.45" fill="#f0a050"/><circle cx="664.7" cy="354.0" r="2.6" fill="#b94016" stroke="#a84a16" stroke-width="0.6"/><circle cx="668.3" cy="355.0" r="3.45" fill="#f0a050"/><circle cx="668.3" cy="355.0" r="2.6" fill="#b94016" stroke="#a84a16" stroke-width="0.6"/><circle cx="672.3" cy="355.5" r="3.45" fill="#f0a050"/><circle cx="672.3" cy="355.5" r="2.6" fill="#b94016" stroke="#a84a16" stroke-width="0.6"/><circle cx="676.7" cy="358.1" r="3.45" fill="#f0a050"/><circle cx="676.7" cy="358.1" r="2.6" fill="#b94016" stroke="#a84a16" stroke-width="0.6"/><circle cx="680.1" cy="367.0" r="3.45" fill="#f0a050"/><circle cx="680.1" cy="367.0" r="2.6" fill="#b94016" stroke="#a84a16" stroke-width="0.6"/><circle cx="683.9" cy="368.9" r="3.45" fill="#f0a050"/><circle cx="683.9" cy="368.9" r="2.6" fill="#b94016" stroke="#a84a16" stroke-width="0.6"/><circle cx="687.8" cy="371.8" r="3.45" fill="#f0a050"/><circle cx="687.8" cy="371.8" r="2.6" fill="#b94016" stroke="#a84a16" stroke-width="0.6"/><circle cx="691.7" cy="382.9" r="3.45" fill="#f0a050"/><circle cx="691.7" cy="382.9" r="2.6" fill="#b94016" stroke="#a84a16" stroke-width="0.6"/><circle cx="696.4" cy="387.5" r="3.45" fill="#f0a050"/><circle cx="696.4" cy="387.5" r="2.6" fill="#b94016" stroke="#a84a16" stroke-width="0.6"/><circle cx="700.6" cy="402.8" r="3.45" fill="#f0a050"/><circle cx="700.6" cy="402.8" r="2.6" fill="#b94016" stroke="#a84a16" stroke-width="0.6"/><circle cx="703.6" cy="411.6" r="3.45" fill="#f0a050"/><circle cx="703.6" cy="411.6" r="2.6" fill="#b94016" stroke="#a84a16" stroke-width="0.6"/><circle cx="707.7" cy="413.6" r="3.45" fill="#f0a050"/><circle cx="707.7" cy="413.6" r="2.6" fill="#b94016" stroke="#a84a16" stroke-width="0.6"/><circle cx="711.5" cy="420.1" r="3.45" fill="#f0a050"/><circle cx="711.5" cy="420.1" r="2.6" fill="#b94016" stroke="#a84a16" stroke-width="0.6"/><circle cx="714.7" cy="425.6" r="3.45" fill="#f0a050"/><circle cx="714.7" cy="425.6" r="2.6" fill="#b94016" stroke="#a84a16" stroke-width="0.6"/><circle cx="718.4" cy="436.7" r="3.45" fill="#f0a050"/><circle cx="718.4" cy="436.7" r="2.6" fill="#b94016" stroke="#a84a16" stroke-width="0.6"/><circle cx="722.3" cy="441.5" r="3.45" fill="#f0a050"/><circle cx="722.3" cy="441.5" r="2.6" fill="#b94016" stroke="#a84a16" stroke-width="0.6"/><circle cx="725.9" cy="457.3" r="3.45" fill="#f0a050"/><circle cx="725.9" cy="457.3" r="2.6" fill="#b94016" stroke="#a84a16" stroke-width="0.6"/><circle cx="730.3" cy="470.6" r="3.45" fill="#f0a050"/><circle cx="730.3" cy="470.6" r="2.6" fill="#b94016" stroke="#a84a16" stroke-width="0.6"/><circle cx="734.3" cy="474.6" r="3.45" fill="#f0a050"/><circle cx="734.3" cy="474.6" r="2.6" fill="#b94016" stroke="#a84a16" stroke-width="0.6"/><circle cx="738.2" cy="481.8" r="3.45" fill="#f0a050"/><circle cx="738.2" cy="481.8" r="2.6" fill="#b94016" stroke="#a84a16" stroke-width="0.6"/><circle cx="742.1" cy="486.2" r="3.45" fill="#f0a050"/><circle cx="742.1" cy="486.2" r="2.6" fill="#b94016" stroke="#a84a16" stroke-width="0.6"/><circle cx="745.8" cy="495.4" r="3.45" fill="#f0a050"/><circle cx="745.8" cy="495.4" r="2.6" fill="#b94016" stroke="#a84a16" stroke-width="0.6"/><circle cx="749.3" cy="506.6" r="3.45" fill="#f0a050"/><circle cx="749.3" cy="506.6" r="2.6" fill="#b94016" stroke="#a84a16" stroke-width="0.6"/><circle cx="752.6" cy="499.1" r="3.45" fill="#f0a050"/><circle cx="752.6" cy="499.1" r="2.6" fill="#b94016" stroke="#a84a16" stroke-width="0.6"/><circle cx="756.9" cy="499.1" r="3.45" fill="#f0a050"/><circle cx="756.9" cy="499.1" r="2.6" fill="#b94016" stroke="#a84a16" stroke-width="0.6"/><circle cx="760.2" cy="491.5" r="3.45" fill="#f0a050"/><circle cx="760.2" cy="491.5" r="2.6" fill="#b94016" stroke="#a84a16" stroke-width="0.6"/><circle cx="764.6" cy="491.1" r="3.45" fill="#f0a050"/><circle cx="764.6" cy="491.1" r="2.6" fill="#b94016" stroke="#a84a16" stroke-width="0.6"/><circle cx="768.4" cy="494.0" r="3.45" fill="#f0a050"/><circle cx="768.4" cy="494.0" r="2.6" fill="#b94016" stroke="#a84a16" stroke-width="0.6"/><circle cx="772.5" cy="499.1" r="3.45" fill="#f0a050"/><circle cx="772.5" cy="499.1" r="2.6" fill="#b94016" stroke="#a84a16" stroke-width="0.6"/><circle cx="775.6" cy="492.2" r="3.45" fill="#f0a050"/><circle cx="775.6" cy="492.2" r="2.6" fill="#b94016" stroke="#a84a16" stroke-width="0.6"/><circle cx="780.0" cy="493.4" r="3.45" fill="#f0a050"/><circle cx="780.0" cy="493.4" r="2.6" fill="#b94016" stroke="#a84a16" stroke-width="0.6"/><circle cx="782.9" cy="501.2" r="3.45" fill="#f0a050"/><circle cx="782.9" cy="501.2" r="2.6" fill="#b94016" stroke="#a84a16" stroke-width="0.6"/><circle cx="786.9" cy="502.3" r="3.45" fill="#f0a050"/><circle cx="786.9" cy="502.3" r="2.6" fill="#b94016" stroke="#a84a16" stroke-width="0.6"/><circle cx="791.1" cy="500.9" r="3.45" fill="#f0a050"/><circle cx="791.1" cy="500.9" r="2.6" fill="#b94016" stroke="#a84a16" stroke-width="0.6"/><circle cx="794.8" cy="497.3" r="3.45" fill="#f0a050"/><circle cx="794.8" cy="497.3" r="2.6" fill="#b94016" stroke="#a84a16" stroke-width="0.6"/><circle cx="798.0" cy="489.0" r="3.45" fill="#f0a050"/><circle cx="798.0" cy="489.0" r="2.6" fill="#b94016" stroke="#a84a16" stroke-width="0.6"/><circle cx="802.3" cy="488.6" r="3.45" fill="#f0a050"/><circle cx="802.3" cy="488.6" r="2.6" fill="#b94016" stroke="#a84a16" stroke-width="0.6"/><circle cx="806.9" cy="487.6" r="3.45" fill="#f0a050"/><circle cx="806.9" cy="487.6" r="2.6" fill="#b94016" stroke="#a84a16" stroke-width="0.6"/><circle cx="811.0" cy="493.4" r="3.45" fill="#f0a050"/><circle cx="811.0" cy="493.4" r="2.6" fill="#b94016" stroke="#a84a16" stroke-width="0.6"/><circle cx="813.9" cy="499.9" r="3.45" fill="#f0a050"/><circle cx="813.9" cy="499.9" r="2.6" fill="#b94016" stroke="#a84a16" stroke-width="0.6"/><circle cx="817.9" cy="501.6" r="3.45" fill="#f0a050"/><circle cx="817.9" cy="501.6" r="2.6" fill="#b94016" stroke="#a84a16" stroke-width="0.6"/><circle cx="821.5" cy="508.6" r="3.45" fill="#f0a050"/><circle cx="821.5" cy="508.6" r="2.6" fill="#b94016" stroke="#a84a16" stroke-width="0.6"/><circle cx="824.4" cy="516.8" r="3.45" fill="#f0a050"/><circle cx="824.4" cy="516.8" r="2.6" fill="#b94016" stroke="#a84a16" stroke-width="0.6"/><circle cx="828.7" cy="515.8" r="3.45" fill="#f0a050"/><circle cx="828.7" cy="515.8" r="2.6" fill="#b94016" stroke="#a84a16" stroke-width="0.6"/><circle cx="832.8" cy="521.6" r="3.45" fill="#f0a050"/><circle cx="832.8" cy="521.6" r="2.6" fill="#b94016" stroke="#a84a16" stroke-width="0.6"/><circle cx="837.1" cy="516.1" r="3.45" fill="#f0a050"/><circle cx="837.1" cy="516.1" r="2.6" fill="#b94016" stroke="#a84a16" stroke-width="0.6"/><circle cx="840.5" cy="519.3" r="3.45" fill="#f0a050"/><circle cx="840.5" cy="519.3" r="2.6" fill="#b94016" stroke="#a84a16" stroke-width="0.6"/><circle cx="844.6" cy="521.2" r="3.45" fill="#f0a050"/><circle cx="844.6" cy="521.2" r="2.6" fill="#b94016" stroke="#a84a16" stroke-width="0.6"/><circle cx="848.6" cy="527.9" r="3.45" fill="#f0a050"/><circle cx="848.6" cy="527.9" r="2.6" fill="#b94016" stroke="#a84a16" stroke-width="0.6"/><circle cx="852.1" cy="537.4" r="3.45" fill="#f0a050"/><circle cx="852.1" cy="537.4" r="2.6" fill="#b94016" stroke="#a84a16" stroke-width="0.6"/><circle cx="855.8" cy="537.7" r="3.45" fill="#f0a050"/><circle cx="855.8" cy="537.7" r="2.6" fill="#b94016" stroke="#a84a16" stroke-width="0.6"/><circle cx="859.7" cy="542.8" r="3.45" fill="#f0a050"/><circle cx="859.7" cy="542.8" r="2.6" fill="#b94016" stroke="#a84a16" stroke-width="0.6"/><circle cx="863.3" cy="530.8" r="3.45" fill="#f0a050"/><circle cx="863.3" cy="530.8" r="2.6" fill="#b94016" stroke="#a84a16" stroke-width="0.6"/><circle cx="867.3" cy="523.0" r="3.45" fill="#f0a050"/><circle cx="867.3" cy="523.0" r="2.6" fill="#b94016" stroke="#a84a16" stroke-width="0.6"/><circle cx="871.2" cy="525.5" r="3.45" fill="#f0a050"/><circle cx="871.2" cy="525.5" r="2.6" fill="#b94016" stroke="#a84a16" stroke-width="0.6"/><circle cx="875.6" cy="526.9" r="3.45" fill="#f0a050"/><circle cx="875.6" cy="526.9" r="2.6" fill="#b94016" stroke="#a84a16" stroke-width="0.6"/><circle cx="878.9" cy="533.7" r="3.45" fill="#f0a050"/><circle cx="878.9" cy="533.7" r="2.6" fill="#b94016" stroke="#a84a16" stroke-width="0.6"/><circle cx="882.8" cy="537.0" r="3.45" fill="#f0a050"/><circle cx="882.8" cy="537.0" r="2.6" fill="#b94016" stroke="#a84a16" stroke-width="0.6"/><circle cx="886.7" cy="532.2" r="3.45" fill="#f0a050"/><circle cx="886.7" cy="532.2" r="2.6" fill="#b94016" stroke="#a84a16" stroke-width="0.6"/><circle cx="890.4" cy="543.5" r="3.45" fill="#f0a050"/><circle cx="890.4" cy="543.5" r="2.6" fill="#b94016" stroke="#a84a16" stroke-width="0.6"/><circle cx="893.9" cy="546.4" r="3.45" fill="#f0a050"/><circle cx="893.9" cy="546.4" r="2.6" fill="#b94016" stroke="#a84a16" stroke-width="0.6"/><circle cx="897.6" cy="547.1" r="3.45" fill="#f0a050"/><circle cx="897.6" cy="547.1" r="2.6" fill="#b94016" stroke="#a84a16" stroke-width="0.6"/><circle cx="901.1" cy="550.0" r="3.45" fill="#f0a050"/><circle cx="901.1" cy="550.0" r="2.6" fill="#b94016" stroke="#a84a16" stroke-width="0.6"/><circle cx="905.1" cy="549.3" r="3.45" fill="#f0a050"/><circle cx="905.1" cy="549.3" r="2.6" fill="#b94016" stroke="#a84a16" stroke-width="0.6"/><circle cx="909.7" cy="544.9" r="3.45" fill="#f0a050"/><circle cx="909.7" cy="544.9" r="2.6" fill="#b94016" stroke="#a84a16" stroke-width="0.6"/><circle cx="913.5" cy="554.7" r="3.45" fill="#f0a050"/><circle cx="913.5" cy="554.7" r="2.6" fill="#b94016" stroke="#a84a16" stroke-width="0.6"/><circle cx="917.3" cy="562.2" r="3.45" fill="#f0a050"/><circle cx="917.3" cy="562.2" r="2.6" fill="#b94016" stroke="#a84a16" stroke-width="0.6"/><circle cx="921.1" cy="556.9" r="3.45" fill="#f0a050"/><circle cx="921.1" cy="556.9" r="2.6" fill="#b94016" stroke="#a84a16" stroke-width="0.6"/><circle cx="924.9" cy="554.7" r="3.45" fill="#f0a050"/><circle cx="924.9" cy="554.7" r="2.6" fill="#b94016" stroke="#a84a16" stroke-width="0.6"/><circle cx="928.3" cy="565.6" r="3.45" fill="#f0a050"/><circle cx="928.3" cy="565.6" r="2.6" fill="#b94016" stroke="#a84a16" stroke-width="0.6"/><circle cx="932.2" cy="566.8" r="3.45" fill="#f0a050"/><circle cx="932.2" cy="566.8" r="2.6" fill="#b94016" stroke="#a84a16" stroke-width="0.6"/><circle cx="935.6" cy="576.2" r="3.45" fill="#f0a050"/><circle cx="935.6" cy="576.2" r="2.6" fill="#b94016" stroke="#a84a16" stroke-width="0.6"/><circle cx="939.5" cy="574.0" r="3.45" fill="#f0a050"/><circle cx="939.5" cy="574.0" r="2.6" fill="#b94016" stroke="#a84a16" stroke-width="0.6"/><circle cx="943.8" cy="574.8" r="3.45" fill="#f0a050"/><circle cx="943.8" cy="574.8" r="2.6" fill="#b94016" stroke="#a84a16" stroke-width="0.6"/><circle cx="947.7" cy="577.3" r="3.45" fill="#f0a050"/><circle cx="947.7" cy="577.3" r="2.6" fill="#b94016" stroke="#a84a16" stroke-width="0.6"/><circle cx="951.4" cy="569.0" r="3.45" fill="#f0a050"/><circle cx="951.4" cy="569.0" r="2.6" fill="#b94016" stroke="#a84a16" stroke-width="0.6"/><circle cx="954.6" cy="571.6" r="3.45" fill="#f0a050"/><circle cx="954.6" cy="571.6" r="2.6" fill="#b94016" stroke="#a84a16" stroke-width="0.6"/><circle cx="958.6" cy="574.5" r="3.45" fill="#f0a050"/><circle cx="958.6" cy="574.5" r="2.6" fill="#b94016" stroke="#a84a16" stroke-width="0.6"/><circle cx="962.5" cy="570.4" r="3.45" fill="#f0a050"/><circle cx="962.5" cy="570.4" r="2.6" fill="#b94016" stroke="#a84a16" stroke-width="0.6"/><circle cx="966.4" cy="570.7" r="3.45" fill="#f0a050"/><circle cx="966.4" cy="570.7" r="2.6" fill="#b94016" stroke="#a84a16" stroke-width="0.6"/><circle cx="970.1" cy="564.0" r="3.45" fill="#f0a050"/><circle cx="970.1" cy="564.0" r="2.6" fill="#b94016" stroke="#a84a16" stroke-width="0.6"/><circle cx="974.0" cy="572.6" r="3.45" fill="#f0a050"/><circle cx="974.0" cy="572.6" r="2.6" fill="#b94016" stroke="#a84a16" stroke-width="0.6"/><circle cx="978.4" cy="566.8" r="3.45" fill="#f0a050"/><circle cx="978.4" cy="566.8" r="2.6" fill="#b94016" stroke="#a84a16" stroke-width="0.6"/><circle cx="982.2" cy="566.8" r="3.45" fill="#f0a050"/><circle cx="982.2" cy="566.8" r="2.6" fill="#b94016" stroke="#a84a16" stroke-width="0.6"/><circle cx="986.3" cy="562.1" r="3.45" fill="#f0a050"/><circle cx="986.3" cy="562.1" r="2.6" fill="#b94016" stroke="#a84a16" stroke-width="0.6"/><circle cx="989.9" cy="554.6" r="3.45" fill="#f0a050"/><circle cx="989.9" cy="554.6" r="2.6" fill="#b94016" stroke="#a84a16" stroke-width="0.6"/><circle cx="993.2" cy="552.4" r="3.45" fill="#f0a050"/><circle cx="993.2" cy="552.4" r="2.6" fill="#b94016" stroke="#a84a16" stroke-width="0.6"/><circle cx="997.1" cy="554.6" r="3.45" fill="#f0a050"/><circle cx="997.1" cy="554.6" r="2.6" fill="#b94016" stroke="#a84a16" stroke-width="0.6"/><circle cx="1001.0" cy="566.8" r="3.45" fill="#f0a050"/><circle cx="1001.0" cy="566.8" r="2.6" fill="#b94016" stroke="#a84a16" stroke-width="0.6"/><circle cx="1004.7" cy="572.2" r="3.45" fill="#f0a050"/><circle cx="1004.7" cy="572.2" r="2.6" fill="#b94016" stroke="#a84a16" stroke-width="0.6"/><circle cx="1008.2" cy="577.6" r="3.45" fill="#f0a050"/><circle cx="1008.2" cy="577.6" r="2.6" fill="#b94016" stroke="#a84a16" stroke-width="0.6"/><circle cx="1012.5" cy="578.8" r="3.45" fill="#f0a050"/><circle cx="1012.5" cy="578.8" r="2.6" fill="#b94016" stroke="#a84a16" stroke-width="0.6"/><circle cx="1016.8" cy="573.3" r="3.45" fill="#f0a050"/><circle cx="1016.8" cy="573.3" r="2.6" fill="#b94016" stroke="#a84a16" stroke-width="0.6"/><circle cx="1020.6" cy="579.8" r="3.45" fill="#f0a050"/><circle cx="1020.6" cy="579.8" r="2.6" fill="#b94016" stroke="#a84a16" stroke-width="0.6"/><circle cx="1024.0" cy="590.9" r="3.45" fill="#f0a050"/><circle cx="1024.0" cy="590.9" r="2.6" fill="#b94016" stroke="#a84a16" stroke-width="0.6"/><circle cx="1027.8" cy="600.4" r="3.45" fill="#f0a050"/><circle cx="1027.8" cy="600.4" r="2.6" fill="#b94016" stroke="#a84a16" stroke-width="0.6"/><circle cx="1031.7" cy="614.4" r="3.45" fill="#f0a050"/><circle cx="1031.7" cy="614.4" r="2.6" fill="#b94016" stroke="#a84a16" stroke-width="0.6"/><circle cx="1035.2" cy="631.6" r="3.45" fill="#f0a050"/><circle cx="1035.2" cy="631.6" r="2.6" fill="#b94016" stroke="#a84a16" stroke-width="0.6"/><circle cx="1038.9" cy="640.1" r="3.45" fill="#f0a050"/><circle cx="1038.9" cy="640.1" r="2.6" fill="#b94016" stroke="#a84a16" stroke-width="0.6"/><circle cx="1042.7" cy="653.1" r="3.45" fill="#f0a050"/><circle cx="1042.7" cy="653.1" r="2.6" fill="#b94016" stroke="#a84a16" stroke-width="0.6"/><circle cx="1046.6" cy="659.6" r="3.45" fill="#f0a050"/><circle cx="1046.6" cy="659.6" r="2.6" fill="#b94016" stroke="#a84a16" stroke-width="0.6"/><circle cx="1050.9" cy="662.2" r="3.45" fill="#f0a050"/><circle cx="1050.9" cy="662.2" r="2.6" fill="#b94016" stroke="#a84a16" stroke-width="0.6"/><circle cx="1054.8" cy="658.4" r="3.45" fill="#f0a050"/><circle cx="1054.8" cy="658.4" r="2.6" fill="#b94016" stroke="#a84a16" stroke-width="0.6"/><circle cx="1058.1" cy="661.7" r="3.45" fill="#f0a050"/><circle cx="1058.1" cy="661.7" r="2.6" fill="#b94016" stroke="#a84a16" stroke-width="0.6"/><circle cx="1061.7" cy="662.8" r="3.45" fill="#f0a050"/><circle cx="1061.7" cy="662.8" r="2.6" fill="#b94016" stroke="#a84a16" stroke-width="0.6"/><circle cx="1065.7" cy="661.0" r="3.45" fill="#f0a050"/><circle cx="1065.7" cy="661.0" r="2.6" fill="#b94016" stroke="#a84a16" stroke-width="0.6"/><circle cx="1069.6" cy="662.8" r="3.45" fill="#f0a050"/><circle cx="1069.6" cy="662.8" r="2.6" fill="#b94016" stroke="#a84a16" stroke-width="0.6"/><circle cx="1073.2" cy="666.1" r="3.45" fill="#f0a050"/><circle cx="1073.2" cy="666.1" r="2.6" fill="#b94016" stroke="#a84a16" stroke-width="0.6"/><circle cx="1076.8" cy="673.3" r="3.45" fill="#f0a050"/><circle cx="1076.8" cy="673.3" r="2.6" fill="#b94016" stroke="#a84a16" stroke-width="0.6"/><circle cx="1080.4" cy="675.1" r="3.45" fill="#f0a050"/><circle cx="1080.4" cy="675.1" r="2.6" fill="#b94016" stroke="#a84a16" stroke-width="0.6"/><circle cx="1085.2" cy="678.0" r="3.45" fill="#f0a050"/><circle cx="1085.2" cy="678.0" r="2.6" fill="#b94016" stroke="#a84a16" stroke-width="0.6"/><circle cx="1089.1" cy="684.8" r="3.45" fill="#f0a050"/><circle cx="1089.1" cy="684.8" r="2.6" fill="#b94016" stroke="#a84a16" stroke-width="0.6"/><circle cx="1092.7" cy="696.3" r="3.45" fill="#f0a050"/><circle cx="1092.7" cy="696.3" r="2.6" fill="#b94016" stroke="#a84a16" stroke-width="0.6"/><circle cx="1096.6" cy="699.2" r="3.45" fill="#f0a050"/><circle cx="1096.6" cy="699.2" r="2.6" fill="#b94016" stroke="#a84a16" stroke-width="0.6"/><circle cx="1099.9" cy="709.3" r="3.45" fill="#f0a050"/><circle cx="1099.9" cy="709.3" r="2.6" fill="#b94016" stroke="#a84a16" stroke-width="0.6"/><circle cx="1103.5" cy="711.2" r="3.45" fill="#f0a050"/><circle cx="1103.5" cy="711.2" r="2.6" fill="#b94016" stroke="#a84a16" stroke-width="0.6"/><circle cx="1107.1" cy="714.3" r="3.45" fill="#f0a050"/><circle cx="1107.1" cy="714.3" r="2.6" fill="#b94016" stroke="#a84a16" stroke-width="0.6"/><circle cx="1111.4" cy="710.0" r="3.45" fill="#f0a050"/><circle cx="1111.4" cy="710.0" r="2.6" fill="#b94016" stroke="#a84a16" stroke-width="0.6"/><circle cx="1115.3" cy="716.1" r="3.45" fill="#f0a050"/><circle cx="1115.3" cy="716.1" r="2.6" fill="#b94016" stroke="#a84a16" stroke-width="0.6"/><circle cx="1120.1" cy="723.7" r="3.45" fill="#f0a050"/><circle cx="1120.1" cy="723.7" r="2.6" fill="#b94016" stroke="#a84a16" stroke-width="0.6"/><circle cx="1123.4" cy="730.9" r="3.45" fill="#f0a050"/><circle cx="1123.4" cy="730.9" r="2.6" fill="#b94016" stroke="#a84a16" stroke-width="0.6"/><circle cx="1127.3" cy="734.5" r="3.45" fill="#f0a050"/><circle cx="1127.3" cy="734.5" r="2.6" fill="#b94016" stroke="#a84a16" stroke-width="0.6"/><circle cx="1131.2" cy="741.0" r="3.45" fill="#f0a050"/><circle cx="1131.2" cy="741.0" r="2.6" fill="#b94016" stroke="#a84a16" stroke-width="0.6"/></g>
</svg></body></html>
